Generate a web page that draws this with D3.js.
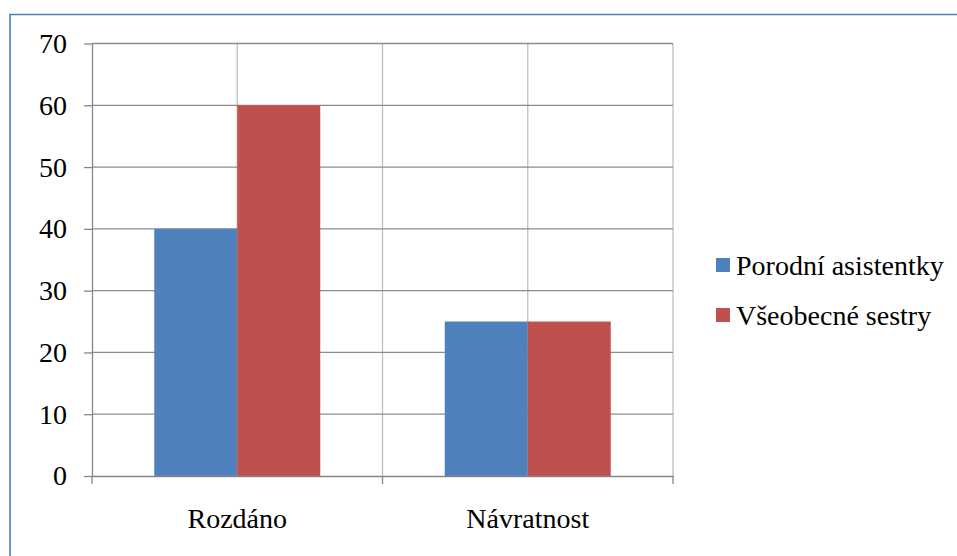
<!DOCTYPE html>
<html>
<head>
<meta charset="utf-8">
<script src="https://cdn.jsdelivr.net/npm/d3@7"></script>
<style>
  html, body { margin: 0; padding: 0; background: #fff; }
  svg { display: block; }
</style>
</head>
<body>
<svg id="chart" width="957" height="556"></svg>
<script>
// Questionnaire counts by group
const categories = ["Rozdáno", "Návratnost"];
const seriesNames = ["Porodní asistentky", "Všeobecné sestry"];
const porodniAsistentky = [40, 25];
const vseobecneSestry = [60, 25];
const yTicks = [0, 10, 20, 30, 40, 50, 60, 70];
const colors = ["#4f81bd", "#c0504d"];

const seriesValues = [porodniAsistentky, vseobecneSestry];
const FONT = "Liberation Serif";
const FONT_SIZE = 28;

const W = 957, H = 556;
const plot = { left: 92, right: 673, top: 43.5, bottom: 476 };
const svg = d3.select("#chart");

// Outer chart frame
svg.append("path")
  .attr("d", `M${W},14.5 H10 V${H}`)
  .attr("fill", "none")
  .attr("stroke", "#4a7ebb")
  .attr("stroke-width", 1.6);

const x = d3.scaleBand().domain(categories).range([plot.left, plot.right]);
const y = d3.scaleLinear().domain([0, 70]).range([plot.bottom, plot.top]);

// Bars: series side by side, gap width 150% of a bar
const barW = x.bandwidth() / (seriesNames.length + 1.5);
const xs = d3.scaleBand().domain(d3.range(seriesNames.length))
  .range([0, barW * seriesNames.length]);

// Vertical gridlines at category centres and edges
const vLines = [];
categories.forEach(c => { vLines.push(x(c) + x.bandwidth() / 2); vLines.push(x(c) + x.bandwidth()); });
svg.append("g").selectAll("line").data(vLines).join("line")
  .attr("x1", d => d).attr("x2", d => d)
  .attr("y1", plot.top).attr("y2", plot.bottom)
  .attr("stroke", "#bfbfbf").attr("stroke-width", 1.3);

// Horizontal gridlines
svg.append("g").selectAll("line").data(yTicks.filter(t => t > 0)).join("line")
  .attr("x1", plot.left).attr("x2", plot.right)
  .attr("y1", d => y(d)).attr("y2", d => y(d))
  .attr("stroke", "#8c8c8c").attr("stroke-width", 1.3);

const groups = svg.append("g").selectAll("g").data(categories).join("g")
  .attr("transform", c => `translate(${x(c) + (x.bandwidth() - barW * seriesNames.length) / 2},0)`);
groups.selectAll("rect")
  .data((c, ci) => seriesValues.map((vals, si) => ({ si, v: vals[ci] })))
  .join("rect")
  .attr("x", d => xs(d.si))
  .attr("width", xs.bandwidth())
  .attr("y", d => y(d.v))
  .attr("height", d => y(0) - y(d.v))
  .attr("fill", d => colors[d.si]);

// Y axis
const yAxis = svg.append("g")
  .attr("transform", `translate(${plot.left},0)`)
  .call(d3.axisLeft(y).tickValues(yTicks).tickSize(8).tickPadding(17).tickSizeOuter(0));
yAxis.attr("font-family", null).attr("font-size", null);
yAxis.select(".domain").attr("stroke", "#868686").attr("stroke-width", 1.3);
yAxis.selectAll(".tick line").attr("stroke", "#868686").attr("stroke-width", 1.3);
yAxis.selectAll(".tick text")
  .style("font-family", FONT).style("font-size", FONT_SIZE + "px")
  .attr("fill", "#000");

// X axis
const xAxis = svg.append("g")
  .attr("transform", `translate(0,${plot.bottom})`)
  .call(d3.axisBottom(x).tickSize(0).tickPadding(32).tickSizeOuter(0));
xAxis.attr("font-family", null).attr("font-size", null);
xAxis.select(".domain").attr("stroke", "#868686").attr("stroke-width", 1.3);
xAxis.selectAll(".tick text")
  .style("font-family", FONT).style("font-size", FONT_SIZE + "px")
  .attr("fill", "#000");
// Tick marks at category edges
const edges = [plot.left].concat(categories.map(c => x(c) + x.bandwidth()));
xAxis.append("g").selectAll("line").data(edges).join("line")
  .attr("x1", d => d).attr("x2", d => d)
  .attr("y1", 0).attr("y2", 8)
  .attr("stroke", "#868686").attr("stroke-width", 1.3);

// Legend
const legend = svg.append("g").attr("transform", "translate(716,258)");
const items = legend.selectAll("g").data(seriesNames).join("g")
  .attr("transform", (d, i) => `translate(0,${i * 50})`);
items.append("rect").attr("width", 14).attr("height", 14)
  .attr("fill", (d, i) => colors[i]);
items.append("text").attr("x", 20).attr("y", 17)
  .style("font-family", FONT).style("font-size", FONT_SIZE + "px")
  .attr("fill", "#000")
  .text(d => d);
</script>
</body>
</html>
